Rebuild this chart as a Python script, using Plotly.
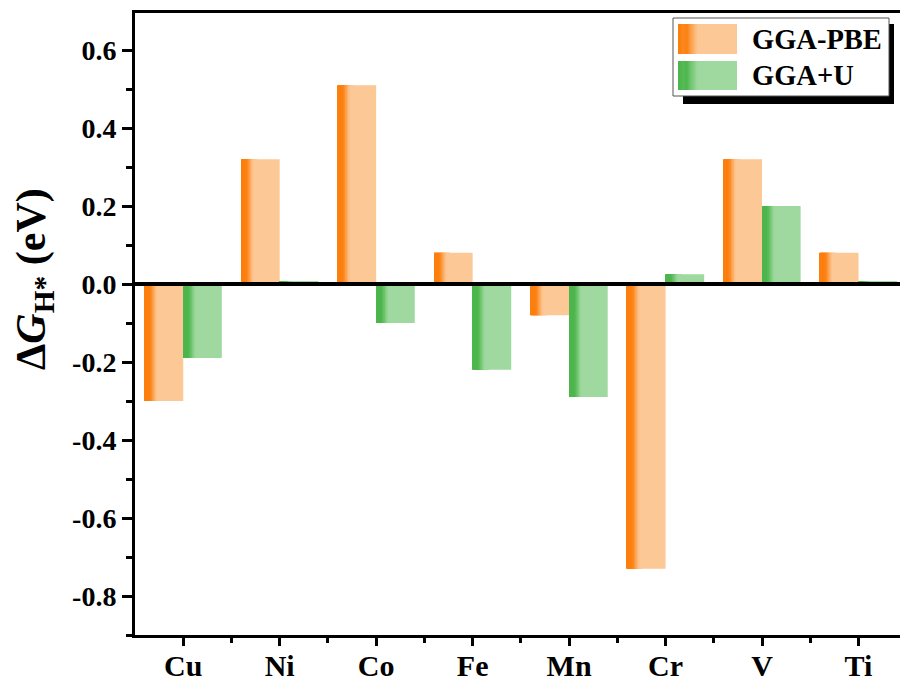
import plotly.graph_objects as go

# ---------------- data ----------------
categories = ["Cu", "Ni", "Co", "Fe", "Mn", "Cr", "V", "Ti"]
gga_pbe = [-0.30, 0.32, 0.51, 0.08, -0.08, -0.73, 0.32, 0.08]
gga_u = [-0.19, 0.008, -0.10, -0.22, -0.29, 0.025, 0.20, 0.008]
series_names = ["GGA-PBE", "GGA+U"]
y_tick_vals = [-0.8, -0.6, -0.4, -0.2, 0.0, 0.2, 0.4, 0.6]
y_tick_text = ["-0.8", "-0.6", "-0.4", "-0.2", "0.0", "0.2", "0.4", "0.6"]

# ---------------- style ----------------
FONT = "Liberation Serif"
W = 900
H = 684
ML, MR, MT, MB = 135, 0, 13, 49
PW = W - ML - MR
PH = H - MT - MB

palettes = [((252, 127, 14), (252, 200, 150)),   # orange dark, light
            ((76, 182, 76), (160, 217, 160))]     # green dark, light
bar_w = 0.4
offsets = [-0.4, 0.0]


def grad(dark, light, f):
    a, b = 0.12, 0.36
    if f <= a:
        c = dark
    elif f >= b:
        c = light
    else:
        t = (f - a) / (b - a)
        t = t * t * (3 - 2 * t)
        c = tuple(dark[i] + (light[i] - dark[i]) * t for i in range(3))
    return "rgb(%d,%d,%d)" % tuple(round(v) for v in c)


x = list(range(len(categories)))
fig = go.Figure()

n_slices = 26
step = 0.40 / n_slices
for s, vals in enumerate([gga_pbe, gga_u]):
    dark, light = palettes[s]
    # base (light) bar
    fig.add_trace(go.Bar(
        x=x, y=vals, name=series_names[s], width=bar_w, offset=offsets[s],
        marker=dict(color=grad(dark, light, 1.0), line=dict(width=0)),
        showlegend=False, hoverinfo="skip"))
    # gradient slices on the left part of each bar
    for k in range(n_slices):
        f = (k + 0.5) * step
        fig.add_trace(go.Bar(
            x=x, y=vals, width=bar_w * step * 1.25, offset=offsets[s] + bar_w * k * step,
            marker=dict(color=grad(dark, light, f), line=dict(width=0)),
            showlegend=False, hoverinfo="skip"))


def px_x(p):
    return (p - ML) / PW


def px_y(p):
    return (H - MB - p) / PH


shapes = []
# zero line on top of bars
shapes.append(dict(type="line", xref="paper", yref="y", x0=0, x1=1, y0=0, y1=0,
                   line=dict(color="black", width=4), layer="above"))

# legend: shadow, box, gradient swatches
shapes.append(dict(type="rect", xref="paper", yref="paper",
                   x0=px_x(683), x1=px_x(894), y0=px_y(104), y1=px_y(24),
                   fillcolor="black", line=dict(width=0), layer="above"))
shapes.append(dict(type="rect", xref="paper", yref="paper",
                   x0=px_x(673), x1=px_x(889), y0=px_y(96), y1=px_y(18),
                   fillcolor="white", line=dict(color="#555555", width=1), layer="above"))
sw_x0, sw_x1 = 678, 737
sw_rows = [(24, 54), (61, 90)]
n_sw = 30
for s in range(2):
    dark, light = palettes[s]
    y0, y1 = sw_rows[s]
    shapes.append(dict(type="rect", xref="paper", yref="paper",
                       x0=px_x(sw_x0), x1=px_x(sw_x1), y0=px_y(y1), y1=px_y(y0),
                       fillcolor=grad(dark, light, 1.0), line=dict(width=0), layer="above"))
    for k in range(n_sw):
        f0 = k / n_sw * 0.45
        f1 = (k + 1) / n_sw * 0.45
        xa = sw_x0 + f0 * (sw_x1 - sw_x0)
        xb = sw_x0 + f1 * (sw_x1 - sw_x0) + 0.3
        shapes.append(dict(type="rect", xref="paper", yref="paper",
                           x0=px_x(xa), x1=px_x(xb), y0=px_y(y1), y1=px_y(y0),
                           fillcolor=grad(dark, light, (f0 + f1) / 2),
                           line=dict(width=0), layer="above"))

annotations = [
    dict(text="<b>Δ<i>G</i><sub>H*</sub> (eV)</b>", textangle=-90, showarrow=False,
         xref="paper", yref="paper", x=px_x(34), y=px_y(279),
         xanchor="center", yanchor="middle",
         font=dict(family=FONT, size=42, color="black")),
]
for s in range(2):
    y0, y1 = sw_rows[s]
    annotations.append(dict(text="<b>%s</b>" % series_names[s], showarrow=False,
                            xref="paper", yref="paper", x=px_x(750), y=px_y((y0 + y1) / 2),
                            xanchor="left", yanchor="middle",
                            font=dict(family=FONT, size=28.5, color="black")))

fig.update_layout(
    width=W, height=H,
    margin=dict(l=ML, r=MR, t=MT, b=MB, pad=0, autoexpand=False),
    paper_bgcolor="white", plot_bgcolor="white",
    barmode="overlay",
    font=dict(family=FONT, size=27, color="black"),
    shapes=shapes, annotations=annotations,
    showlegend=False,
    xaxis=dict(range=[-0.5, 7.43], showline=True, linewidth=3, linecolor="black",
               mirror=True, ticks="outside", ticklen=8, tickwidth=3, tickcolor="black",
               tickvals=x, ticktext=categories, showgrid=False, zeroline=False,
               ticklabelstandoff=-6,
               tickfont=dict(family=FONT, size=30, color="black", weight="bold"),
               minor=dict(tickvals=[i + 0.5 for i in x], ticks="outside", ticklen=5,
                          tickwidth=3, tickcolor="black", showgrid=False)),
    yaxis=dict(range=[-0.9, 0.695], showline=True, linewidth=3, linecolor="black",
               ticks="outside", ticklen=10, tickwidth=3, tickcolor="black",
               tickvals=y_tick_vals, ticktext=y_tick_text, showgrid=False, zeroline=False,
               tickfont=dict(family=FONT, size=28, color="black", weight="bold"),
               minor=dict(tick0=0.1, dtick=0.2, ticks="outside", ticklen=6,
                          tickwidth=3, tickcolor="black", showgrid=False)),
)

fig.write_html("out.html")
